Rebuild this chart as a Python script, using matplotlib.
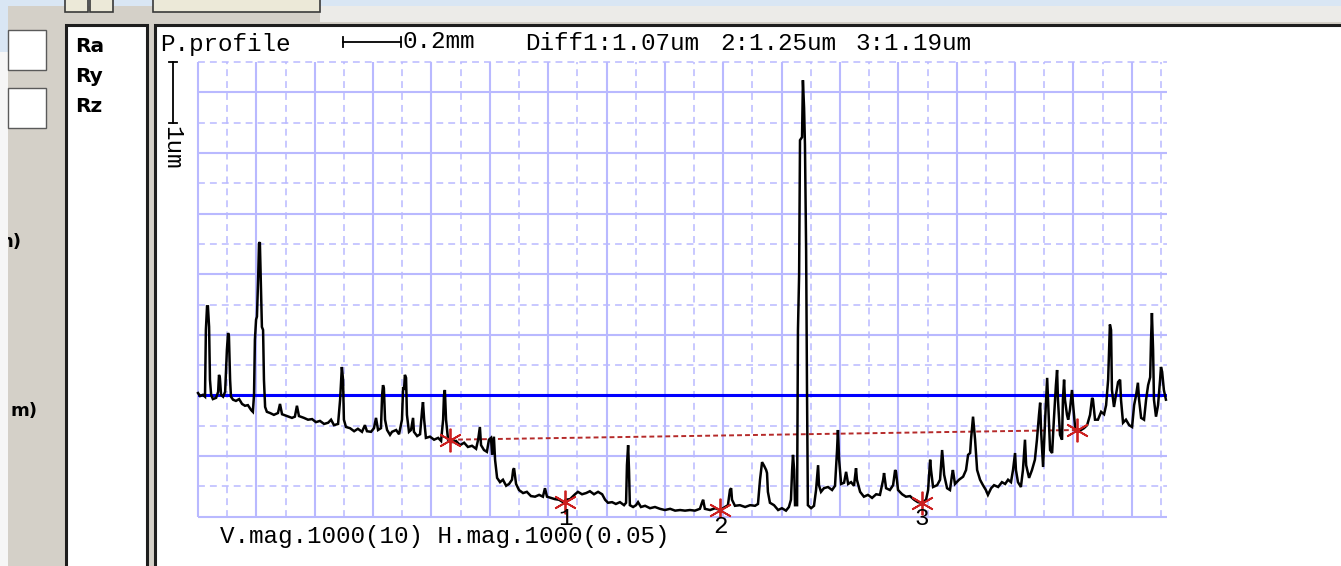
import matplotlib
matplotlib.use("Agg")
import numpy as np
import matplotlib.pyplot as plt
from matplotlib.patches import Rectangle
from matplotlib.transforms import Bbox, TransformedBbox

# ---- data (x in mm, height in um) ----
profile_x_mm = [
    0.000, 0.007, 0.017, 0.024, 0.027, 0.031, 0.034, 0.038, 0.041, 0.045, 0.051, 0.062,
    0.069, 0.072, 0.075, 0.079, 0.086, 0.093, 0.099, 0.103, 0.106, 0.110, 0.113, 0.120,
    0.130, 0.141, 0.151, 0.161, 0.171, 0.182, 0.188, 0.192, 0.195, 0.199, 0.202, 0.206,
    0.209, 0.212, 0.216, 0.219, 0.223, 0.226, 0.230, 0.236, 0.247,
    0.260, 0.274, 0.281, 0.288, 0.305, 0.322, 0.332, 0.339, 0.346, 0.363, 0.377, 0.391,
    0.404, 0.418, 0.432, 0.446, 0.456, 0.466, 0.480, 0.487, 0.493, 0.497, 0.500, 0.507,
    0.521, 0.535, 0.548, 0.562, 0.572, 0.579, 0.593, 0.603, 0.610, 0.617, 0.627, 0.631,
    0.634, 0.637, 0.641, 0.648, 0.658,
    0.665, 0.679, 0.689, 0.699, 0.703, 0.706, 0.709, 0.713, 0.716, 0.723, 0.730, 0.737,
    0.740, 0.751, 0.761, 0.768, 0.771, 0.775, 0.781, 0.795, 0.809, 0.823, 0.833, 0.840,
    0.843, 0.846, 0.850, 0.857, 0.870,
    0.884, 0.898, 0.912, 0.925, 0.939, 0.953, 0.960, 0.966, 0.970, 0.980, 0.990, 0.997,
    1.004, 1.008, 1.014, 1.018, 1.025, 1.035, 1.045, 1.056, 1.066, 1.076, 1.080, 1.083,
    1.090, 1.100, 1.114, 1.127, 1.141, 1.155, 1.169, 1.182, 1.189, 1.196, 1.210, 1.223,
    1.237, 1.251,
    1.261, 1.275, 1.292, 1.302, 1.316, 1.330, 1.343, 1.357, 1.371, 1.385, 1.395, 1.405,
    1.419, 1.432, 1.446, 1.460, 1.467, 1.470, 1.474, 1.477, 1.480, 1.491, 1.501, 1.508,
    1.518,
    1.532, 1.549, 1.566, 1.583, 1.600, 1.618, 1.635, 1.652, 1.669, 1.686, 1.703, 1.720,
    1.727, 1.731, 1.737, 1.755, 1.772, 1.789, 1.806, 1.816, 1.823, 1.827, 1.830, 1.840,
    1.857, 1.875, 1.892, 1.909, 1.919, 1.926, 1.933, 1.940, 1.947, 1.950, 1.953, 1.960,
    1.974, 1.988, 2.001, 2.015, 2.025, 2.032, 2.036, 2.039, 2.043, 2.046, 2.053, 2.056,
    2.060, 2.063, 2.070, 2.073, 2.077, 2.080, 2.084, 2.087, 2.090, 2.101,
    2.111, 2.118, 2.125, 2.128, 2.135, 2.145, 2.159, 2.173, 2.183, 2.190, 2.193, 2.197,
    2.204, 2.214, 2.221, 2.228, 2.238, 2.248, 2.255, 2.258, 2.269, 2.282, 2.296, 2.310,
    2.324, 2.337, 2.348, 2.351, 2.358, 2.371, 2.382, 2.389, 2.392, 2.399, 2.413, 2.426,
    2.440, 2.454, 2.467, 2.481, 2.495, 2.502, 2.509, 2.512, 2.519, 2.533, 2.543, 2.550,
    2.557, 2.567, 2.577, 2.584, 2.587, 2.594, 2.608, 2.622, 2.632, 2.639, 2.646, 2.649,
    2.656, 2.663, 2.670, 2.680,
    2.690, 2.700, 2.707, 2.718, 2.728, 2.742, 2.755, 2.766, 2.776, 2.786, 2.793, 2.800,
    2.803, 2.810, 2.820, 2.827, 2.834, 2.838, 2.848, 2.858, 2.868, 2.875, 2.882, 2.886,
    2.889, 2.896, 2.903, 2.910, 2.913, 2.920, 2.927, 2.933, 2.940, 2.944, 2.947, 2.954,
    2.961, 2.964, 2.968, 2.971, 2.978, 2.982, 2.988, 2.995, 2.999, 3.006, 3.016, 3.026,
    3.036, 3.047, 3.057, 3.064, 3.067, 3.074, 3.084, 3.095, 3.105, 3.112, 3.119, 3.125,
    3.129, 3.132, 3.139, 3.146, 3.153, 3.160, 3.163, 3.170, 3.180, 3.191, 3.201, 3.208,
    3.215, 3.221, 3.225, 3.232, 3.242, 3.249, 3.256, 3.263, 3.266, 3.269, 3.273, 3.276,
    3.283, 3.290, 3.297, 3.300, 3.304, 3.310, 3.317,
]
profile_y_um = [
    2.04, 1.99, 2.01, 1.98, 3.08, 3.47, 3.47, 3.13, 2.26, 2.01, 1.94, 1.96,
    2.06, 2.34, 2.29, 2.01, 1.98, 2.06, 2.75, 3.03, 2.98, 2.26, 1.98, 1.93,
    1.91, 1.94, 1.86, 1.83, 1.84, 1.76, 1.73, 2.01, 2.92, 3.25, 3.30, 3.91,
    4.50, 4.53, 3.74, 3.13, 3.08, 2.26, 1.81, 1.73, 1.71,
    1.68, 1.71, 1.86, 1.69, 1.66, 1.63, 1.65, 1.83, 1.66, 1.63, 1.60, 1.61,
    1.56, 1.58, 1.53, 1.55, 1.60, 1.51, 1.53, 1.93, 2.47, 2.26, 1.60, 1.48,
    1.46, 1.41, 1.45, 1.40, 1.51, 1.41, 1.40, 1.46, 1.63, 1.43, 1.46, 2.01,
    2.17, 2.12, 1.60, 1.43, 1.35,
    1.40, 1.43, 1.36, 1.60, 2.14, 2.09, 2.34, 2.29, 1.68, 1.40, 1.43, 1.63,
    1.40, 1.33, 1.36, 1.76, 1.89, 1.60, 1.30, 1.32, 1.27, 1.30, 1.25, 1.60,
    2.01, 2.09, 1.60, 1.27, 1.23,
    1.25, 1.18, 1.22, 1.15, 1.17, 1.12, 1.27, 1.48, 1.18, 1.10, 1.07, 1.27,
    1.30, 1.02, 1.32, 0.94, 0.64, 0.57, 0.61, 0.51, 0.54, 0.61, 0.77, 0.80,
    0.54, 0.44, 0.39, 0.41, 0.34, 0.33, 0.36, 0.33, 0.47, 0.33, 0.31, 0.29,
    0.28, 0.24,
    0.28, 0.29, 0.37, 0.41, 0.37, 0.39, 0.42, 0.37, 0.41, 0.37, 0.28, 0.23,
    0.24, 0.21, 0.24, 0.19, 0.23, 0.85, 1.18, 0.77, 0.19, 0.16, 0.19, 0.24,
    0.16,
    0.18, 0.14, 0.16, 0.13, 0.11, 0.13, 0.10, 0.11, 0.10, 0.11, 0.10, 0.13,
    0.23, 0.28, 0.13, 0.11, 0.14, 0.11, 0.16, 0.19, 0.44, 0.47, 0.28, 0.18,
    0.19, 0.16, 0.19, 0.18, 0.21, 0.61, 0.90, 0.84, 0.77, 0.72, 0.41, 0.23,
    0.19, 0.11, 0.14, 0.10, 0.16, 0.28, 0.77, 1.02, 0.77, 0.19, 0.19, 3.08,
    3.99, 6.21, 6.26, 7.20, 6.74, 6.13, 4.40, 2.09, 0.19, 0.14,
    0.18, 0.44, 0.85, 0.52, 0.41, 0.47, 0.49, 0.44, 0.51, 1.10, 1.43, 0.94,
    0.54, 0.56, 0.74, 0.54, 0.57, 0.51, 0.80, 0.61, 0.41, 0.33, 0.36, 0.31,
    0.37, 0.36, 0.61, 0.72, 0.47, 0.44, 0.52, 0.77, 0.74, 0.44, 0.37, 0.33,
    0.34, 0.28, 0.24, 0.23, 0.28, 0.44, 0.94, 0.77, 0.49, 0.52, 0.61, 1.10,
    0.69, 0.47, 0.44, 0.69, 0.77, 0.54, 0.61, 0.66, 0.77, 1.02, 1.05, 1.27,
    1.65, 1.27, 0.77, 0.61,
    0.52, 0.44, 0.36, 0.47, 0.52, 0.49, 0.57, 0.54, 0.61, 0.57, 0.77, 1.05,
    0.77, 0.57, 0.49, 0.77, 1.27, 0.85, 0.64, 0.77, 0.94, 1.27, 1.68, 1.88,
    1.43, 0.82, 1.60, 2.29, 1.93, 1.10, 1.05, 1.60, 2.17, 2.42, 1.93, 1.35,
    1.27, 1.93, 2.26, 1.93, 1.68, 1.60, 1.76, 2.09, 1.84, 1.46, 1.40, 1.43,
    1.46, 1.51, 1.68, 1.96, 1.93, 1.60, 1.60, 1.73, 1.69, 1.84, 2.26, 3.17,
    3.08, 2.09, 1.81, 2.01, 2.22, 2.26, 1.93, 1.55, 1.60, 1.51, 1.48, 1.84,
    2.01, 2.21, 1.93, 1.63, 1.60, 1.93, 2.17, 2.30, 2.92, 3.36, 2.75, 1.93,
    1.65, 1.84, 2.26, 2.47, 2.39, 2.09, 1.93,
]

mean_level_um = 2.0
marker_x_mm = [0.864, 1.258, 1.789, 2.481, 3.012]
marker_y_um = [1.27, 0.24, 0.11, 0.23, 1.43]
marker_labels = ["", "1", "2", "3", ""]
diff_um = [1.07, 1.25, 1.19]
scale_h_mm = 0.2
scale_v_um = 1.0

W, H = 1341, 566
fig = plt.figure(figsize=(W / 100, H / 100), dpi=100)
fig.patch.set_facecolor("#d4d0c8")

MONO = "Liberation Mono"
FS = 17.5


def fx(x):
    return x / W


def fy(y):
    return 1 - y / H


def box(x0, y0, x1, y1, **kw):
    r = Rectangle((fx(x0), fy(y1)), (x1 - x0) / W, (y1 - y0) / H,
                  transform=fig.transFigure, zorder=-10, **kw)
    fig.add_artist(r)


# window chrome around the chart
box(0, 0, W, 6, fc="#d9e6f4", ec="none")
box(0, 0, 8, 52, fc="#d9e6f4", ec="none")
box(0, 52, 8, H, fc="#f6f6f6", ec="none")
box(320, 6, W, 22, fc="#ecebe8", ec="none")
box(65, -2, 88, 12, fc="#ece9d8", ec="#3a3a3a", lw=1.2)
box(90, -2, 113, 12, fc="#ece9d8", ec="#3a3a3a", lw=1.2)
box(153, -2, 320, 12, fc="#ece9d8", ec="#3a3a3a", lw=1.2)
box(8, 30, 46, 70, fc="white", ec="#5a5a5a", lw=1.0)
box(8, 88, 46, 128, fc="white", ec="#5a5a5a", lw=1.0)
box(66, 25, 147, H + 10, fc="white", ec="#1e1e1e", lw=2.2)
box(155, 25, W + 10, H + 10, fc="white", ec="#1e1e1e", lw=2.2)

for lab, yb in zip(["Ra", "Ry", "Rz"], [52, 82, 112]):
    fig.text(fx(75), fy(yb), lab, fontsize=14.5, fontweight="bold",
             family="DejaVu Sans", va="baseline")

clip = TransformedBbox(Bbox.from_extents(fx(8), 0, 1, 1), fig.transFigure)
for lab, xr, yb in [("n)", 21, 247), ("m)", 38, 416)]:
    t = fig.text(fx(xr), fy(yb), lab, fontsize=13, fontweight="bold",
                 family="DejaVu Sans", ha="right", va="baseline")
    t.set_clip_box(clip)
    t.set_clip_on(True)

# ---- chart ----
ax = fig.add_axes([fx(198), fy(516.7), (1166.8 - 198) / W, 454.7 / H])
ax.set_xlim(0, 3.32)
ax.set_ylim(0, 7.5)
ax.axis("off")

GRID = "#b9b9ff"
maj_x = np.round(np.arange(0, 3.21, 0.2), 2)
min_x = np.round(np.arange(0.1, 3.31, 0.2), 2)
maj_y = np.arange(0, 8, 1.0)
min_y = np.arange(0.5, 7.6, 1.0)
ax.vlines(maj_x, 0, 7.5, colors=GRID, lw=1.5, clip_on=False, zorder=1)
ax.vlines(min_x, 0, 7.5, colors=GRID, lw=1.1, linestyles=(0, (4.5, 3.3)),
          clip_on=False, zorder=1)
ax.hlines(maj_y, 0, 3.32, colors=GRID, lw=1.5, clip_on=False, zorder=1)
ax.hlines(min_y, 0, 3.32, colors=GRID, lw=1.1, linestyles=(0, (4.5, 3.3)),
          clip_on=False, zorder=1)

ax.axhline(mean_level_um, color="#0000ff", lw=2.2, zorder=2)
ax.plot([marker_x_mm[0], marker_x_mm[-1]], [marker_y_um[0], marker_y_um[-1]],
        color="#b52a2a", lw=1.4, ls=(0, (2.5, 1.6)), zorder=3)
ax.plot(profile_x_mm, profile_y_um, color="black", lw=1.8, zorder=4,
        clip_on=False, solid_joinstyle="miter")
ax.plot(marker_x_mm, marker_y_um, ls="none", marker=(6, 2, 0), ms=17,
        mec="#cc1f1f", mew=1.3, zorder=5)
for x, y, lab in zip(marker_x_mm, marker_y_um, marker_labels):
    if lab:
        ax.annotate(lab, (x, y), xytext=(0, -16), textcoords="offset pixels",
                    ha="center", va="center", family=MONO, fontsize=FS,
                    zorder=6, annotation_clip=False)

# scale bars
ybar = 7.83
x0 = 0.497
ax.plot([x0, x0 + scale_h_mm], [ybar, ybar], color="black", lw=1.3, clip_on=False)
for xe in (x0, x0 + scale_h_mm):
    ax.plot([xe, xe], [ybar - 0.08, ybar + 0.08], color="black", lw=1.3, clip_on=False)
ax.text(x0 + scale_h_mm + 0.005, ybar, f"{scale_h_mm}mm", family=MONO,
        fontsize=FS, va="center", ha="left", clip_on=False)

xv = -0.086
ax.plot([xv, xv], [7.5, 7.5 - scale_v_um], color="black", lw=1.3, clip_on=False)
for ye in (7.5, 7.5 - scale_v_um):
    ax.plot([xv - 0.013, xv + 0.013], [ye, ye], color="black", lw=1.3, clip_on=False)
ax.text(xv - 0.004, 7.5 - scale_v_um - 0.05, "1um", family=MONO, fontsize=FS,
        rotation=-90, ha="center", va="top", clip_on=False)

# header / footer text
fig.text(fx(160), fy(44), "P.profile", family=MONO, fontsize=FS, va="center")
fig.text(fx(525), fy(44), f"Diff1:{diff_um[0]:.2f}um", family=MONO, fontsize=FS, va="center")
fig.text(fx(720), fy(44), f"2:{diff_um[1]:.2f}um", family=MONO, fontsize=FS, va="center")
fig.text(fx(855), fy(44), f"3:{diff_um[2]:.2f}um", family=MONO, fontsize=FS, va="center")
fig.text(fx(220), fy(536), "V.mag.1000(10) H.mag.1000(0.05)", family=MONO,
         fontsize=FS, va="center")

fig.savefig("out.png", dpi=100, facecolor=fig.get_facecolor())
